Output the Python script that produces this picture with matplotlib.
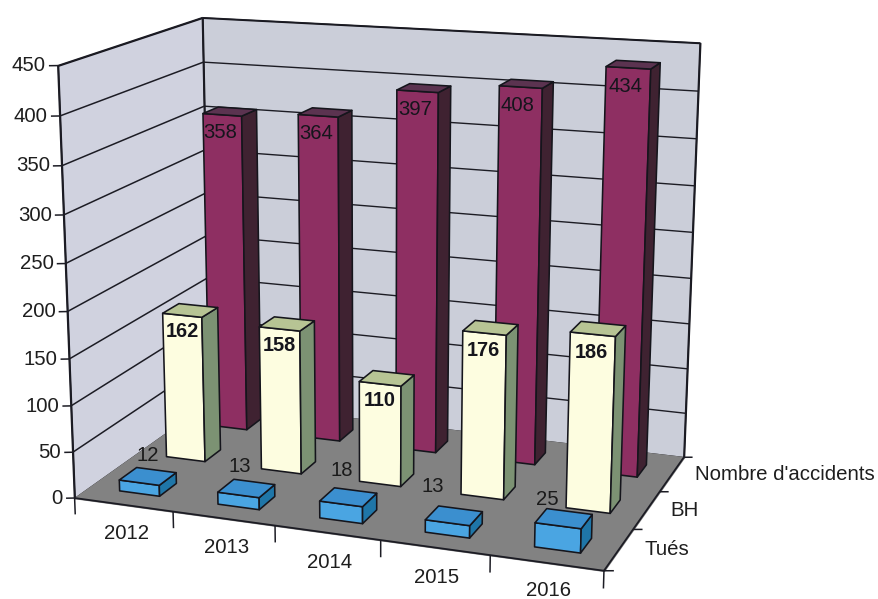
import numpy as np
import matplotlib
matplotlib.use("Agg")
import matplotlib.pyplot as plt
from mpl_toolkits.mplot3d.art3d import Poly3DCollection, Line3DCollection

plt.rcParams['font.family'] = ['Liberation Sans', 'DejaVu Sans']

years = ['2012', '2013', '2014', '2015', '2016']
series_names = ['Tués', 'BH', "Nombre d'accidents"]
tues = [12, 13, 18, 13, 25]
bh = [162, 158, 110, 176, 186]
accidents = [358, 364, 397, 408, 434]
z_ticks = [0, 50, 100, 150, 200, 250, 300, 350, 400, 450]

W, H = 879, 599
nx, ny, zmax = len(years), len(series_names), z_ticks[-1]

# Camera of the chart: a projective map fitted to the corners of the plot box
box3d = [(0, 0, 0), (0, 0, zmax), (0, ny, zmax), (0, ny, 0),
         (nx, ny, zmax), (nx, ny, 0), (nx, 0, 0)]
box2d = [(75, 497.7), (57.5, 65.7), (203, 17.5), (210, 402),
         (700, 43), (684, 457), (604, 571)]
rows = []
for (x, y, z), (u, v) in zip(box3d, box2d):
    v = H - v
    rows.append([x, y, z, 1, 0, 0, 0, 0, -u*x, -u*y, -u*z, -u])
    rows.append([0, 0, 0, 0, x, y, z, 1, -v*x, -v*y, -v*z, -v])
P = np.linalg.svd(np.array(rows, float))[2][-1].reshape(3, 4)

fig = plt.figure(figsize=(W/100, H/100), dpi=100, facecolor='white')
ax = fig.add_axes([0, 0, 1, 1], projection='3d', computed_zorder=False)
ax.apply_aspect = lambda position=None: None
ax.set_axis_off()
ax.patch.set_alpha(0)


def get_proj():
    T = ax.transData.inverted().get_matrix()
    R = T @ P
    if (R[2] @ np.array([2.5, 1.5, 200, 1])) < 0:
        R = -R
    return np.array([R[0], R[1], [0, 1, 0, 0], R[2]])


ax.get_proj = get_proj

order = [0]


def z_next():
    order[0] += 1
    return order[0]


def face(pts, fc, ec='#15151c', lw=1.15):
    c = Poly3DCollection([pts], facecolors=fc, edgecolors=ec, linewidths=lw,
                         zorder=z_next())
    ax.add_collection3d(c, autolim=False)


def line(a, b, color='#1c1c24', lw=1.1):
    c = Line3DCollection([[a, b]], colors=color, linewidths=lw, zorder=z_next())
    ax.add_collection3d(c, autolim=False)


def label(x, y, z, s, dx=0, dy=0, **kw):
    u, v, w = P @ np.array([x, y, z, 1.0])
    fig.text((u / w + dx) / W, (v / w - dy) / H, s, **kw)


TEXT = dict(fontsize=14.7, color='#1e1e1e')

# walls and floor
face([(0, 0, 0), (0, ny, 0), (0, ny, zmax), (0, 0, zmax)], '#d0d2df', lw=1.2)
face([(0, ny, 0), (nx, ny, 0), (nx, ny, zmax), (0, ny, zmax)], '#cbced9', lw=1.2)
face([(0, 0, 0), (nx, 0, 0), (nx, ny, 0), (0, ny, 0)], '#828282', ec='#828282')

for z in z_ticks[1:]:
    line((0, 0, z), (0, ny, z))
    line((0, ny, z), (nx, ny, z), lw=1.0)
line((0, ny, 0), (0, ny, zmax), lw=1.2)
line((nx, ny, 0), (nx, ny, zmax), lw=1.2)

# axes and ticks
line((0, 0, 0), (0, 0, zmax), lw=1.3)
line((0, 0, 0), (nx, 0, 0), lw=1.3)
line((nx, 0, 0), (nx, ny, 0), lw=1.3)
line((0, 0, 0), (0, 0, -18))
for z in z_ticks:
    line((0, 0, z), (-0.072, -0.031, z))
    label(-0.098, -0.042, z, str(z), ha='right', va='center', **TEXT)
for i in range(1, nx + 1):
    line((i, 0, 0), (i, 0, -18))
for j in range(ny + 1):
    line((nx, j, 0), (nx + 0.078, j + 0.029, 0))
for i, lab in enumerate(years):
    label(i + 0.52, 0, -31, lab, dy=-3 if i == nx - 1 else 0,
          ha='center', va='center', **TEXT)
for j, lab in enumerate(series_names):
    label(nx + 0.205, j + 0.57, 0, lab, ha='left', va='center', **TEXT)

# bars, from the back row to the front row
bw, bd = 0.41, 0.36
styles = {
    2: dict(front='#8e2f62', side='#3f2231', top='#5b3350'),
    1: dict(front='#fdfde0', side='#7c9273', top='#b7c494'),
    0: dict(front='#4aa5e2', side='#1f76a8', top='#3b8fcf'),
}
values = {0: tues, 1: bh, 2: accidents}
# small pixel nudges of the labels above the flat blue boxes
blue_nudge = [(-2, 2), (-6, 2), (-4, -2), (-17, -4), (-10, 6)]
for j in (2, 1, 0):
    st = styles[j]
    y0, y1 = j + 0.5 - bd/2, j + 0.5 + bd/2
    for i, v in enumerate(values[j]):
        x0, x1 = i + 0.5 - bw/2, i + 0.5 + bw/2
        face([(x0, y0, 0), (x1, y0, 0), (x1, y0, v), (x0, y0, v)], st['front'])
        face([(x1, y0, 0), (x1, y1, 0), (x1, y1, v), (x1, y0, v)], st['side'])
        face([(x0, y0, v), (x1, y0, v), (x1, y1, v), (x0, y1, v)], st['top'])
        if j == 0:
            label(i + 0.333, y1 + 0.21, v + 8, str(v), dx=blue_nudge[i][0],
                  dy=blue_nudge[i][1], ha='center', va='center', fontsize=14.6,
                  color='#1a1a1a')
        elif j == 1:
            label(i + 0.5, y0, v - 19, str(v), ha='center', va='center',
                  fontsize=14.4, color='#15151c', fontweight='bold')
        else:
            label(i + 0.48, y0, v - 20, str(v), ha='center', va='center',
                  fontsize=14.6, color='#15151c')

fig.savefig('out.png', dpi=100, facecolor='white')
